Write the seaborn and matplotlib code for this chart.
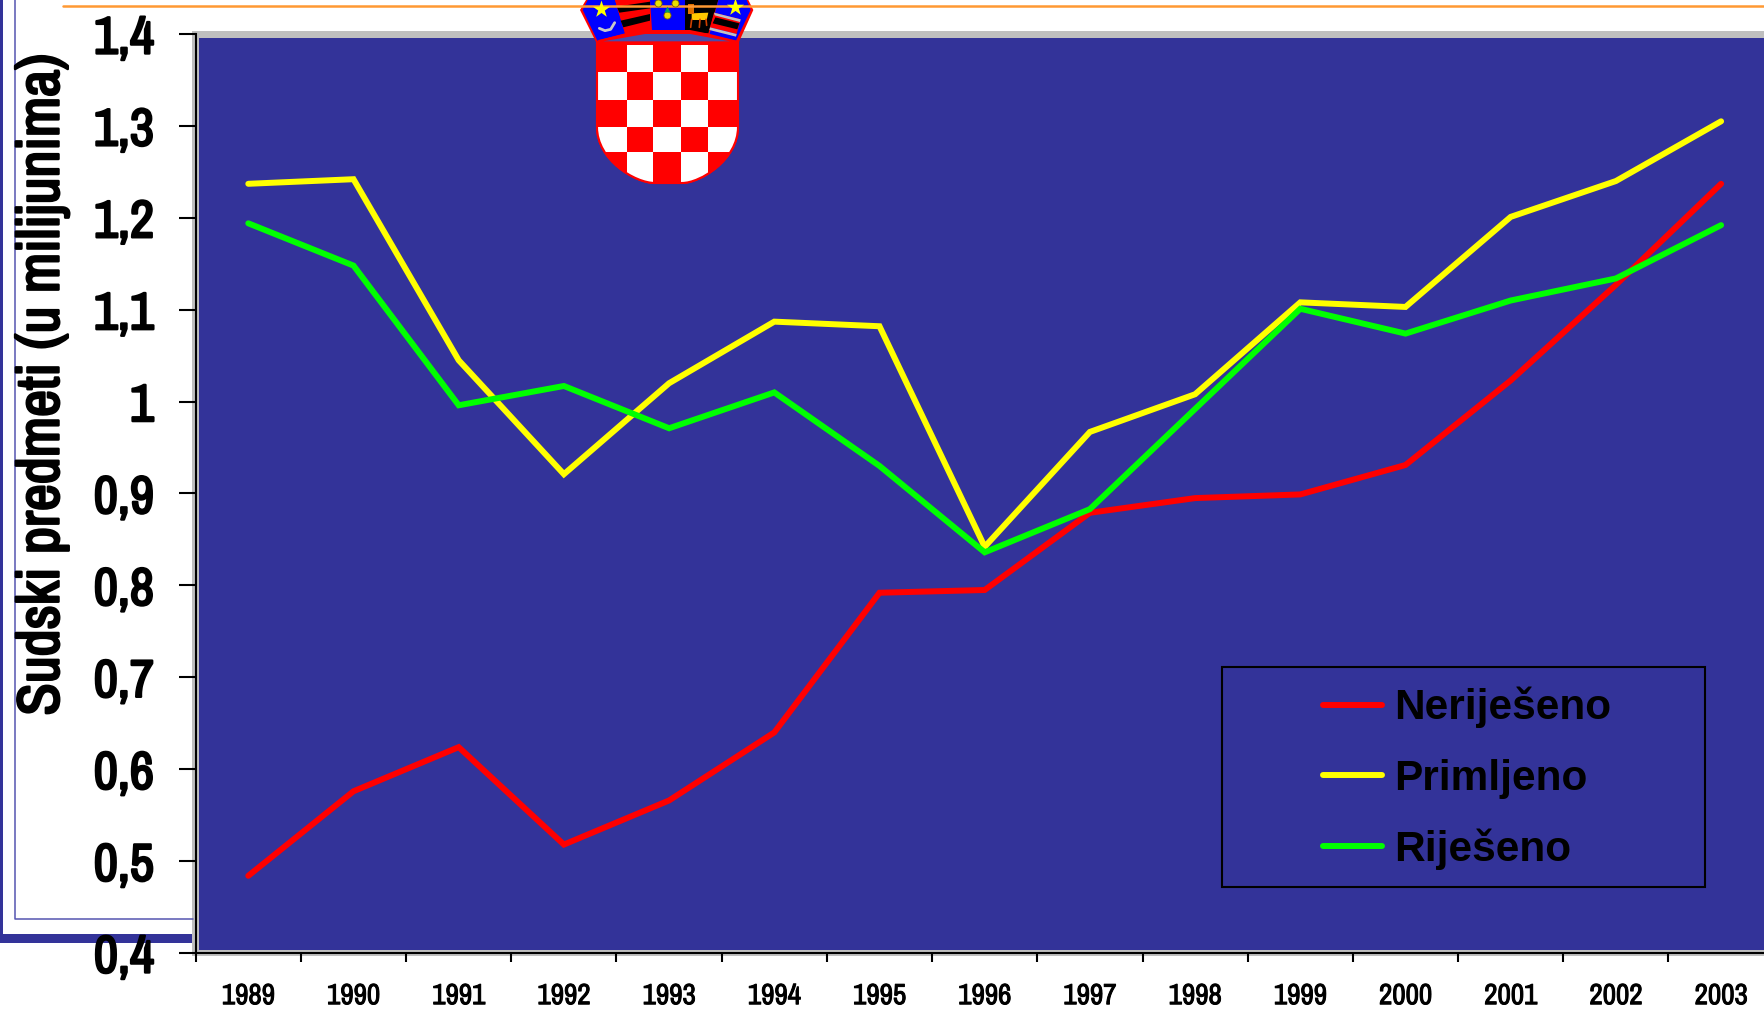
import numpy as np
import pandas as pd
import seaborn as sns
import matplotlib
matplotlib.use("Agg")
import matplotlib.pyplot as plt
import matplotlib.patheffects as pe
from matplotlib.patches import PathPatch, Polygon, Rectangle
from matplotlib.path import Path

# podaci
godine = [1989, 1990, 1991, 1992, 1993, 1994, 1995, 1996, 1997, 1998, 1999, 2000, 2001, 2002, 2003]
nerijeseno = [0.484, 0.576, 0.624, 0.518, 0.566, 0.640, 0.792, 0.795, 0.879, 0.895, 0.899, 0.931, 1.023, 1.127, 1.237]
primljeno = [1.237, 1.242, 1.045, 0.921, 1.020, 1.087, 1.082, 0.842, 0.967, 1.008, 1.108, 1.103, 1.201, 1.240, 1.305]
rijeseno = [1.194, 1.148, 0.996, 1.017, 0.971, 1.010, 0.930, 0.836, 0.883, 0.992, 1.101, 1.074, 1.110, 1.134, 1.192]
y_oznake = ["0,4", "0,5", "0,6", "0,7", "0,8", "0,9", "1", "1,1", "1,2", "1,3", "1,4"]
y_vrijednosti = [0.4, 0.5, 0.6, 0.7, 0.8, 0.9, 1.0, 1.1, 1.2, 1.3, 1.4]
serije = ["Nerije\u0161eno", "Primljeno", "Rije\u0161eno"]

df = pd.DataFrame({
    "god": list(range(len(godine))) * 3,
    "vrijednost": nerijeseno + primljeno + rijeseno,
    "serija": [serije[0]] * 15 + [serije[1]] * 15 + [serije[2]] * 15,
})

PLAVA = "#333399"
W, H = 1765, 1010
USKI = ["Archivo Narrow", "Liberation Sans"]

sns.set_theme(style="white")
plt.rcParams["font.family"] = ["Liberation Sans", "DejaVu Sans"]

fig = plt.figure(figsize=(W / 100, H / 100), dpi=100, facecolor="white")

# pozadina u pikselima
bg = fig.add_axes([0, 0, 1, 1], zorder=0)
bg.set_xlim(0, W)
bg.set_ylim(H, 0)
bg.axis("off")

bg.add_patch(Rectangle((0, 0), 3.5, 943, color=PLAVA, lw=0))
bg.add_patch(Rectangle((0, 934), 193, 9, color=PLAVA, lw=0))
bg.plot([15, 15, 193], [0, 918.5, 918.5], color="#5555B0", lw=1.1)
bg.plot([63, W], [6, 6], color="#FF9933", lw=1.8)
bg.add_patch(Rectangle((192.5, 31), W, 925, color="#BFBFBF", lw=0))
bg.add_patch(Rectangle((199, 38), W, 912, color=PLAVA, lw=0))

# grb - stit
stit = Path(
    [(597, 42), (738, 42), (738, 127), (738, 160), (700, 183), (682, 183), (655, 183), (635, 183), (597, 160), (597, 127), (597, 42)],
    [Path.MOVETO, Path.LINETO, Path.LINETO, Path.CURVE4, Path.CURVE4, Path.CURVE4, Path.LINETO, Path.CURVE4, Path.CURVE4, Path.CURVE4, Path.CLOSEPOLY],
)
bg.add_patch(PathPatch(stit, facecolor="#FF0000", edgecolor="#FF0000", lw=1.5))
stupci = [597, 627, 653, 681, 708, 738]
redovi = [43, 72, 100, 127, 152, 183]
for r in range(5):
    for s in range(5):
        if (r + s) % 2 == 1:
            p = Rectangle((stupci[s], redovi[r]), stupci[s + 1] - stupci[s], redovi[r + 1] - redovi[r], color="white", lw=0)
            bg.add_patch(p)
            p.set_clip_path(PathPatch(stit, transform=bg.transData))
bg.add_patch(PathPatch(stit, facecolor="none", edgecolor="#FF0000", lw=1.5))


def z(*tocke):
    # tocke iz uvecanog isjecka grba
    return [(570 + x / 3, y / 3) for x, y in tocke]


# kruna
bg.add_patch(Polygon(z((30, 30), (48, 0), (535, 0), (550, 30), (505, 130), (80, 130)), color="#FF0000", lw=0))
bg.add_patch(Polygon(z((38, 30), (53, 0), (135, 0), (165, 100), (82, 122)), color="#0000FF", lw=0))
bg.add_patch(Polygon(z((135, 0), (240, 0), (243, 90), (165, 100)), color="#FF0000", lw=0))
bg.add_patch(Polygon(z((140, 20), (240, 5), (240, 25), (148, 38)), color="black", lw=0))
bg.add_patch(Polygon(z((152, 62), (240, 42), (240, 62), (160, 82)), color="black", lw=0))
bg.add_patch(Polygon(z((240, 0), (345, 0), (345, 90), (245, 90)), color="#0000FF", lw=0))
bg.add_patch(Polygon(z((345, 0), (445, 0), (415, 100), (345, 95)), color="black", lw=0))
bg.add_patch(Polygon(z((445, 0), (530, 0), (542, 30), (498, 122), (418, 105)), color="#0000FF", lw=0))
bg.add_patch(Polygon(z((432, 38), (512, 58), (500, 102), (420, 82)), color="#FF0000", lw=0))
bg.add_patch(Polygon(z((436, 52), (508, 70), (502, 88), (428, 70)), color="black", lw=0))
bg.add_patch(Polygon(z((432, 38), (512, 58), (510, 66), (434, 46)), color="#C0C0C0", lw=0))
bg.add_patch(Polygon(z((420, 82), (500, 102), (498, 110), (418, 90)), color="#C0C0C0", lw=0))
bg.add_patch(Polygon(z((85, 120), (170, 100), (225, 90), (360, 90), (420, 102), (500, 122), (500, 135), (85, 135)), color="#FF0000", lw=0))
bg.add_patch(Polygon(z((100, 124), (225, 102), (360, 102), (480, 124)), color="#4A4AA8", lw=0))
bg.scatter(*zip(*z((92, 27), (495, 22))), marker="*", s=170, color="#FFFF00", lw=0, zorder=3)
bg.scatter(*zip(*z((265, 8), (315, 8), (290, 45))), marker="o", s=26, color="#E8E000", edgecolor="#806000", lw=0.6, zorder=3)
bg.scatter(*zip(*z((290, 28))), marker="^", s=18, color="#00A060", lw=0, zorder=3)
bg.add_patch(Polygon(z((365, 40), (415, 38), (410, 60), (365, 60)), color="#FFC800", lw=0))
bg.plot(*zip(*z((365, 58), (362, 82))), color="#D04000", lw=1.2)
bg.plot(*zip(*z((390, 58), (388, 82))), color="#D04000", lw=1.2)
bg.plot(*zip(*z((408, 58), (410, 76))), color="#D04000", lw=1.2)
bg.add_patch(Rectangle((570 + 355 / 3, 4), 6, 10, color="#E07000", lw=0))
bg.plot(*zip(*z((88, 85), (105, 92), (122, 88), (134, 68))), color="#C8C8C8", lw=2)

# glavni graf
ax = fig.add_axes([195.7 / W, 1 - 953 / H, 1578 / W, (953 - 34) / H], zorder=1)
ax.patch.set_alpha(0)
sns.lineplot(
    data=df, x="god", y="vrijednost", hue="serija", hue_order=serije,
    palette=["#FF0000", "#FFFF00", "#00FF00"],
    linewidth=4.3, solid_capstyle="round", solid_joinstyle="miter",
    errorbar=None, ax=ax, legend=True,
)

ax.set_xlim(-0.5, 14.5)
ax.set_ylim(0.4, 1.4)
ax.set_xticks(np.arange(-0.5, 15, 1))
ax.set_xticklabels([])
ax.set_xticks(range(15), minor=True)
ax.set_xticklabels(godine, minor=True, family=USKI, fontsize=21)
ax.tick_params(axis="x", which="major", length=6.5, width=1.5, color="black", bottom=True)
ax.tick_params(axis="x", which="minor", length=0, pad=21, labelcolor="black", bottom=True)
ax.set_yticks(y_vrijednosti)
ax.set_yticklabels(y_oznake, family=USKI, fontsize=38)
ax.tick_params(axis="y", length=12, width=1.5, color="black", pad=18, left=True, labelcolor="black")

# uski font nema bold pa se deblja potezom
for oznaka in ax.get_xticklabels(minor=True):
    oznaka.set_path_effects([pe.withStroke(linewidth=0.7, foreground="black")])
for oznaka in ax.get_yticklabels():
    oznaka.set_path_effects([pe.withStroke(linewidth=1.7, foreground="black")])

for strana in ["top", "right"]:
    ax.spines[strana].set_visible(False)
for strana in ["left", "bottom"]:
    ax.spines[strana].set_color("black")
    ax.spines[strana].set_linewidth(1.5)

ax.set_xlabel("")
ax.set_ylabel("Sudski predmeti (u milijunima)", family=USKI, fontsize=42.5, color="black",
              path_effects=[pe.withStroke(linewidth=1.8, foreground="black")])
ax.yaxis.set_label_coords((69 - 195.7) / 1578, (953 - 384) / 919)

# legenda
bg.add_patch(Rectangle((1222, 667), 483, 220, facecolor="none", edgecolor="black", lw=1.5, zorder=2))
ax.legend(
    loc="upper left", bbox_to_anchor=(1323 / W, 1 - 687 / H), bbox_transform=fig.transFigure,
    frameon=False, borderpad=0, borderaxespad=0, handlelength=1.4, handletextpad=0.28,
    labelspacing=0.71, labelcolor="black", prop={"family": ["Liberation Sans"], "weight": "bold", "size": 30.5},
)

fig.savefig("out.png", dpi=100)
